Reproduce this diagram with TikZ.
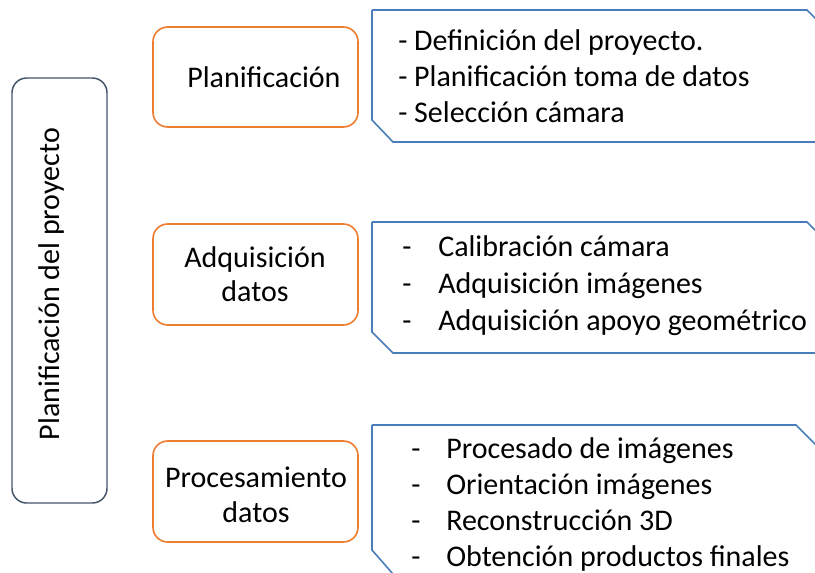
\documentclass[tikz,border=0pt]{standalone}
\usepackage{fontspec}
\setmainfont{Carlito}
\begin{document}
\begin{tikzpicture}[x=0.75pt,y=-0.75pt,
  txt/.style={font=\fontsize{22.5pt}{27pt}\selectfont, inner sep=0pt, anchor=base west},
  ctxt/.style={font=\fontsize{22.5pt}{27pt}\selectfont, inner sep=0pt, anchor=base},
  phase/.style={draw=orange1, line width=1.2pt, rounded corners=11pt},
  mainbox/.style={draw=slate1, line width=1.1pt, rounded corners=11pt},
  listbox/.style={draw=blue1, line width=1.2pt, line join=miter}]
\definecolor{orange1}{HTML}{ED7D31}
\definecolor{slate1}{HTML}{44546A}
\definecolor{blue1}{HTML}{4A7EBB}
\useasboundingbox (0,0) rectangle (815,572);
\fill[white] (0,0) rectangle (815,572);

% left main box
\draw[mainbox] (12,78) rectangle (107,503);
\node[font=\fontsize{22.5pt}{27pt}\selectfont, inner sep=0pt, rotate=90] (main) at (52,284) {Planificación del proyecto};

% phase boxes
\draw[phase] (153,27) rectangle (358,127);
\draw[phase] (153,224) rectangle (358,325);
\draw[phase] (153,441) rectangle (358,542);
\node[txt] (p1) at (187,87) {Planificación};
\node[ctxt] (p2a) at (255,267) {Adquisición};
\node[ctxt] (p2b) at (255,301) {datos};
\node[ctxt] (p3a) at (256,487) {Procesamiento};
\node[ctxt] (p3b) at (256,522) {datos};

% list boxes
\draw[listbox] (372,10) -- (807,10) -- (817,20);
\draw[listbox] (817,142) -- (393,142) -- (372,120) -- (372,10);
\draw[listbox] (372,222) -- (807,222) -- (817,232);
\draw[listbox] (817,353) -- (393,353) -- (372,332) -- (372,222);
\draw[listbox] (372,425) -- (796,425) -- (817,446);
\draw[listbox] (393,574) -- (372,550) -- (372,425);

% list texts
\node[txt] (a1) at (398,50) {- Definición del proyecto.};
\node[txt] (a2) at (398,86) {- Planificación toma de datos};
\node[txt] (a3) at (398,122) {- Selección cámara};

\node[txt] (b1d) at (402,256) {-};
\node[txt] (b1) at (438,256) {Calibración cámara};
\node[txt] (b2d) at (402,293) {-};
\node[txt] (b2) at (438,293) {Adquisición imágenes};
\node[txt] (b3d) at (402,330) {-};
\node[txt] (b3) at (438,330) {Adquisición apoyo geométrico};

\node[txt] (c1d) at (411,458) {-};
\node[txt] (c1) at (446,458) {Procesado de imágenes};
\node[txt] (c2d) at (411,494) {-};
\node[txt] (c2) at (446,494) {Orientación imágenes};
\node[txt] (c3d) at (411,530) {-};
\node[txt] (c3) at (446,530) {Reconstrucción 3D};
\node[txt] (c4d) at (411,566) {-};
\node[txt] (c4) at (446,566) {Obtención productos finales};
\end{tikzpicture}
\end{document}
